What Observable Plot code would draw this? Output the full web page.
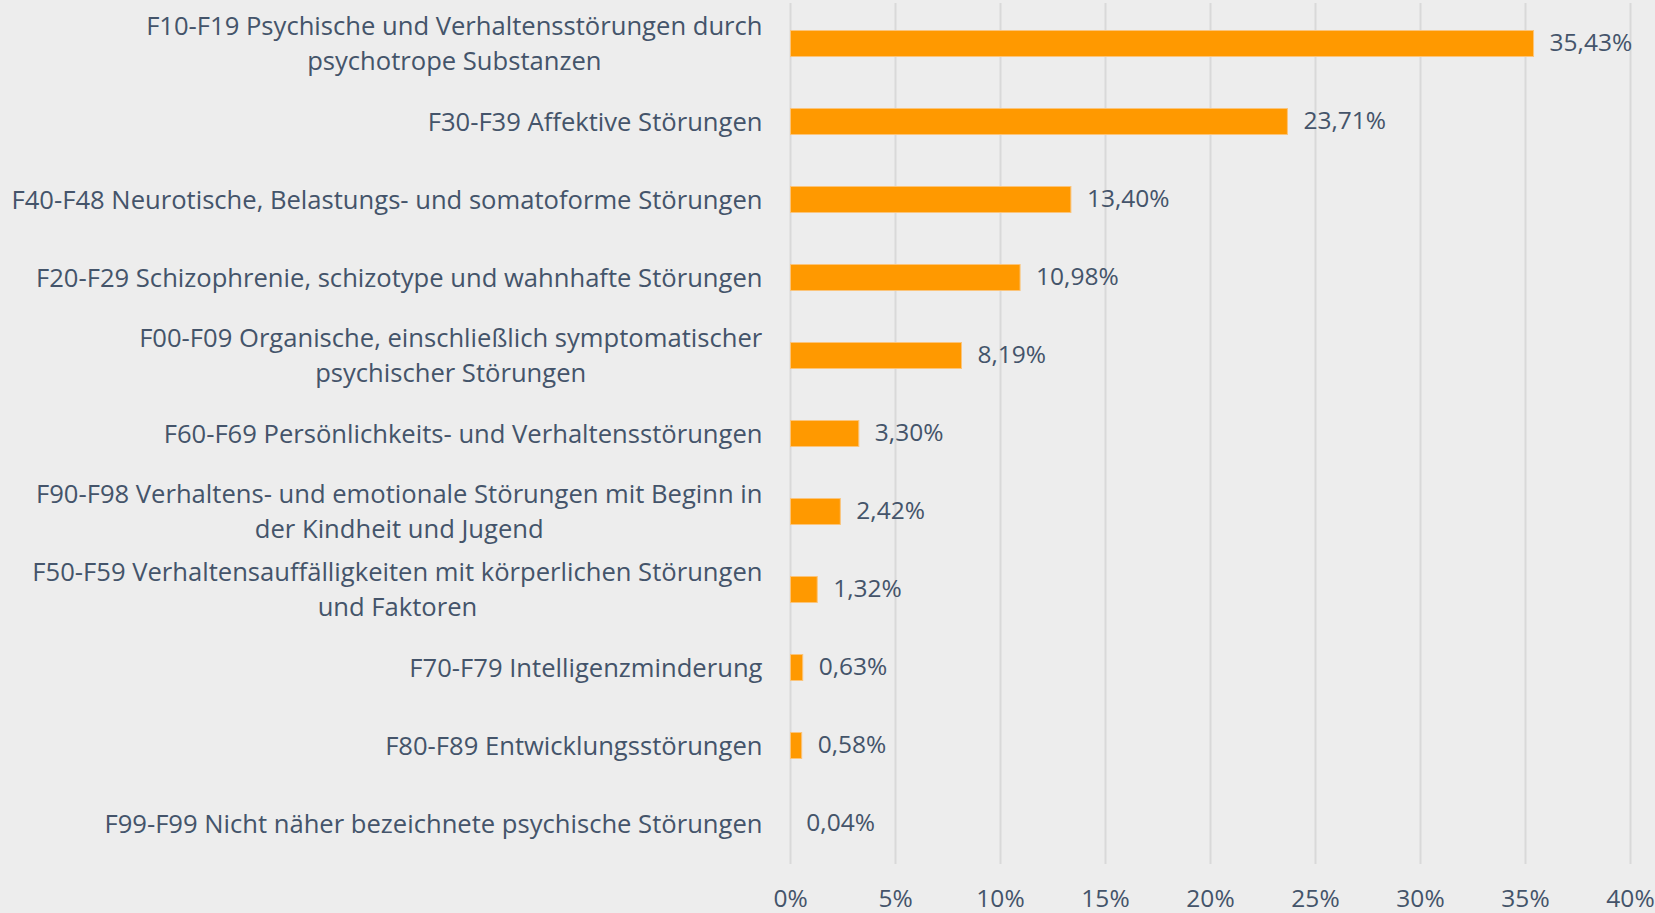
<!DOCTYPE html>
<html>
<head>
<meta charset="utf-8">
<script src="https://cdn.jsdelivr.net/npm/d3@7"></script>
<script src="https://cdn.jsdelivr.net/npm/@observablehq/plot@0.6"></script>
<style>
  html, body { margin: 0; padding: 0; background: #EDEDED; overflow: hidden; }
  #chart svg { display: block; }
</style>
</head>
<body>
<div id="chart"></div>
<script>
const categories = [
  "F10-F19 Psychische und Verhaltensstörungen durch\npsychotrope Substanzen",
  "F30-F39 Affektive Störungen",
  "F40-F48 Neurotische, Belastungs- und somatoforme Störungen",
  "F20-F29 Schizophrenie, schizotype und wahnhafte Störungen",
  "F00-F09 Organische, einschließlich symptomatischer\npsychischer Störungen",
  "F60-F69 Persönlichkeits- und Verhaltensstörungen",
  "F90-F98 Verhaltens- und emotionale Störungen mit Beginn in\nder Kindheit und Jugend",
  "F50-F59 Verhaltensauffälligkeiten mit körperlichen Störungen\nund Faktoren",
  "F70-F79 Intelligenzminderung",
  "F80-F89 Entwicklungsstörungen",
  "F99-F99 Nicht näher bezeichnete psychische Störungen"
];
const values = [35.43, 23.71, 13.40, 10.98, 8.19, 3.30, 2.42, 1.32, 0.63, 0.58, 0.04];
const xTicks = [0, 5, 10, 15, 20, 25, 30, 35, 40];

const data = categories.map((c, i) => ({ category: c, value: values[i] }));
const fmt = v => v.toFixed(2).replace(".", ",") + "%";
const textColor = "#44546A";
const fontFamily = "'Open Sans', sans-serif";
const labelSize = 25.6;
const valueSize = 24.5;

const chart = Plot.plot({
  width: 1655,
  height: 913,
  marginTop: 3,
  marginBottom: 49,
  marginLeft: 790,
  marginRight: 25,
  style: { background: "#EDEDED", fontFamily, fontSize: "24px", color: textColor },
  x: { domain: [0, 40], ticks: xTicks, label: null },
  y: { domain: categories, paddingInner: 0.655, paddingOuter: 0.3275, label: null },
  marks: [
    Plot.gridX(xTicks, { stroke: "#D9D9D9", strokeOpacity: 1, strokeWidth: 2 }),
    Plot.barX(data, { x: "value", y: "category", fill: "#FF9900", stroke: "#FBC47A", strokeWidth: 1, inset: 0.5 }),
    Plot.text(data, { x: "value", y: "category", text: d => fmt(d.value), dx: 15, dy: -1, textAnchor: "start", fill: textColor, fontSize: valueSize }),
    Plot.axisX(xTicks, { anchor: "bottom", label: null, tickSize: 0, tickPadding: 25, tickFormat: d => d + "%", fill: textColor, fontSize: valueSize }),
    Plot.axisY({ anchor: "left", label: null, tickSize: 0, tickPadding: 28, dy: -2.5, textAnchor: "end", lineHeight: 1.37, fill: textColor, fontSize: labelSize, tickFormat: d => d })
  ]
});

document.getElementById("chart").appendChild(chart);

// center wrapped lines of multi-line category labels (Excel style)
chart.querySelectorAll('g[aria-label="y-axis tick label"] text').forEach(t => {
  const spans = t.querySelectorAll("tspan");
  if (spans.length > 1) {
    const w = t.getBBox().width;
    t.setAttribute("text-anchor", "middle");
    spans.forEach(s => {
      const x0 = parseFloat(s.getAttribute("x") || "0");
      s.setAttribute("x", x0 - w / 2);
    });
  }
});
</script>
</body>
</html>
